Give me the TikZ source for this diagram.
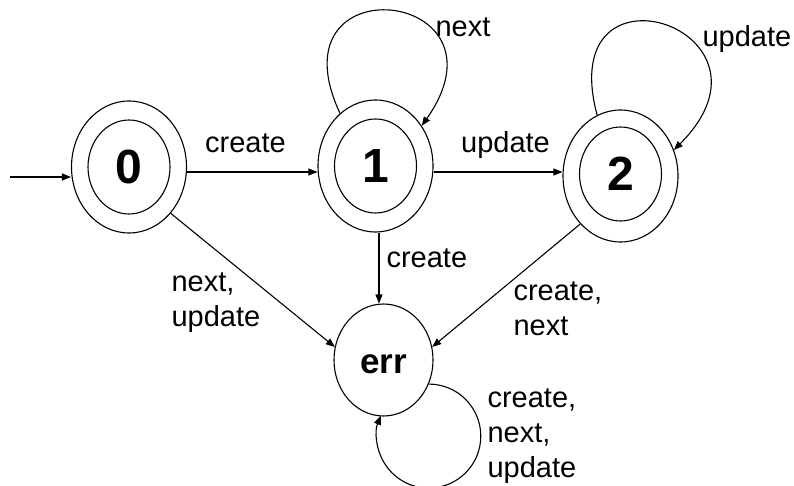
\documentclass[tikz,border=0pt]{standalone}
\usepackage{fontspec}
\setmainfont{Liberation Sans}
\usetikzlibrary{arrows.meta,shapes.geometric}

\begin{document}
\begin{tikzpicture}[x=1pt,y=-1pt,line width=1.1pt,
  statebox/.style={ellipse,draw,minimum width=115pt,minimum height=132pt,inner sep=0pt},
  innerbox/.style={ellipse,draw,minimum width=82pt,minimum height=94pt,inner sep=0pt,
    font=\fontsize{48}{48}\selectfont\bfseries},
  errbox/.style={ellipse,draw,minimum width=99pt,minimum height=112pt,inner sep=0pt,
    font=\fontsize{35}{35}\selectfont\bfseries},
  lbl/.style={inner sep=0pt,font=\fontsize{29}{35}\selectfont,align=left},
  arr/.style={-{Triangle[length=9pt,width=7pt]}}]
\useasboundingbox (0,0) rectangle (794,486);

% states
\node[statebox] (n0) at (129,167) {};
\node[innerbox] (n0in) at (129,167) {0};
\node[statebox] (n1) at (375.5,166) {};
\node[innerbox] (n1in) at (375.5,166) {1};
\node[statebox] (n2) at (620.5,176) {};
\node[innerbox] (n2in) at (620.5,174) {2};
\node[errbox] (err) at (383.5,360) {\raisebox{-4pt}[\height][0pt]{err}};

% initial arrow
\coordinate (start) at (10,177);
\draw[arr] (start) -- (start -| n0.west);

% transitions
\draw[arr] ([yshift=-5pt]n0.east) -- ([yshift=-6pt]n1.west);
\draw[arr] ([yshift=-6pt]n1.east) -- ([yshift=4pt]n2.west);
\draw[arr] ([xshift=3.5pt]n1.south) -- ([xshift=-4.5pt]err.north);
\draw[arr] (n0.-48) -- (err.165);
\draw[arr] (n2.230) -- (err.15);

% self loops
\draw[arr] (n1.124) to[out=115,in=55,looseness=5.2] (n1.41);
\draw[arr] (n2.111) to[out=105,in=45,looseness=5.2] (n2.26);
\draw[arr] (err.-28) arc[start angle=90,end angle=-203,radius=52pt];

% transition labels (base anchor sits on the last line)
\node[lbl,anchor=base] (l01) at (245.5,153) {create};
\node[lbl,anchor=base] (l12) at (505.5,153) {update};
\node[lbl,anchor=base west] (l11) at (435,37) {next};
\node[lbl,anchor=base west] (l22) at (702,47) {update};
\node[lbl,anchor=base west] (l1e) at (386,267) {create};
\node[lbl,anchor=base west] (l2e) at (513,335) {create,\\next};
\node[lbl,anchor=base west] (l0e) at (171,326) {next,\\update};
\node[lbl,anchor=base west] (lee) at (487,477) {create,\\next,\\update};
\end{tikzpicture}
\end{document}
